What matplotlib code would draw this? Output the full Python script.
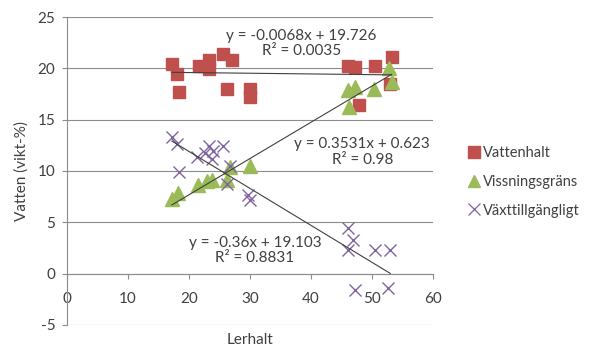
import matplotlib
matplotlib.use("Agg")
import matplotlib.pyplot as plt
from matplotlib.lines import Line2D
import numpy as np

plt.rcParams['font.family'] = ['Lato', 'DejaVu Sans']
plt.rcParams['axes.unicode_minus'] = False

# Data
vatten_x = [17.2, 18.0, 18.4, 21.6, 23.3, 23.3, 25.5, 27.0, 26.3, 30.0, 30.0,
            46.1, 47.2, 50.5, 53.2, 52.9, 47.8]
vatten_y = [20.4, 19.4, 17.7, 20.2, 20.8, 19.9, 21.4, 20.8, 18.0, 18.0, 17.2,
            20.2, 20.1, 20.2, 21.1, 18.5, 16.4]

viss_x = [17.2, 18.2, 21.4, 22.9, 23.7, 26.2, 26.7, 30.0,
          46.1, 47.2, 46.3, 50.4, 52.8, 53.2]
viss_y = [7.3, 7.9, 8.6, 9.0, 9.1, 9.1, 10.4, 10.5,
          17.9, 18.2, 16.2, 18.0, 20.0, 18.7]

vaxt_x = [17.2, 18.0, 18.3, 21.3, 22.7, 23.2, 23.9, 25.6, 23.7, 26.7, 26.3, 29.7, 30.0,
          46.1, 46.9, 46.1, 50.5, 53.0, 47.2, 52.7]
vaxt_y = [13.3, 12.6, 9.9, 11.4, 11.8, 12.4, 11.9, 12.4, 11.2, 10.5, 8.7, 7.7, 7.2,
          4.4, 3.3, 2.3, 2.3, 2.3, -1.6, -1.4]

series_names = ['Vattenhalt', 'Vissningsgräns', 'Växttillgängligt']
trend_coef = [(-0.0068, 19.726), (0.3531, 0.623), (-0.36, 19.103)]
trend_r2 = ['0.0035', '0.98', '0.8831']
trend_eq = ['y = -0.0068x + 19.726', 'y = 0.3531x + 0.623', 'y = -0.36x + 19.103']

x_ticks = [0, 10, 20, 30, 40, 50, 60]
y_ticks = [-5, 0, 5, 10, 15, 20, 25]

colors = ['#C0504D', '#9BBB59', '#8064A2']

fig = plt.figure(figsize=(5.89, 3.46), dpi=100)
ax = fig.add_axes([67/589, 1-325/346, (433-67)/589, (325-17)/346])

ax.set_xlim(0, 60)
ax.set_ylim(-5, 25)
ax.set_xticks(x_ticks)
ax.set_yticks(y_ticks)
ax.yaxis.grid(True, color='#8c8c8c', linewidth=0.8)
ax.set_axisbelow(True)

for s in ['top', 'right']:
    ax.spines[s].set_visible(False)
ax.spines['bottom'].set_position(('data', 0))
ax.spines['bottom'].set_color('#8c8c8c')
ax.spines['left'].set_color('#8c8c8c')
ax.tick_params(axis='both', direction='out', length=3.5, color='#8c8c8c',
               labelsize=11, labelcolor='#404040')
ax.tick_params(axis='x', pad=10)
ax.tick_params(axis='y', pad=5)

ax.plot(vatten_x, vatten_y, 's', color=colors[0], markersize=9.2, mec=colors[0], zorder=3)
ax.plot(viss_x, viss_y, '^', color=colors[1], markersize=10, mec=colors[1], zorder=3)
ax.plot(vaxt_x, vaxt_y, 'x', color=colors[2], markersize=9, mew=1.0, zorder=3)

for xs, (k, m) in zip([vatten_x, viss_x, vaxt_x], trend_coef):
    xx = np.array([min(xs), max(xs)])
    ax.plot(xx, k*xx + m, color='#404040', linewidth=0.8, zorder=4)

label_pos = [(38.4, 22.4), (48.4, 11.85), (30.8, 2.3)]
for (tx, ty), eq, r2 in zip(label_pos, trend_eq, trend_r2):
    ax.text(tx, ty, eq + '\nR² = ' + r2, ha='center', va='center', fontsize=11,
            color='#404040', linespacing=1.1, zorder=5)

ax.set_xlabel('Lerhalt', fontsize=11, color='#404040')
ax.xaxis.set_label_coords(0.5, -0.025)
ax.set_ylabel('Vatten (vikt-%)', fontsize=11, color='#404040', labelpad=6)

handles = [Line2D([], [], marker='s', ls='', color=colors[0], markersize=8),
           Line2D([], [], marker='^', ls='', color=colors[1], markersize=8),
           Line2D([], [], marker='x', ls='', color=colors[2], markersize=8, mew=0.9)]
fig.legend(handles, series_names, loc='center left', bbox_to_anchor=(468/589, 1-182/346),
           frameon=False, fontsize=10.5, handletextpad=0.2, labelspacing=1.0,
           handlelength=0.8, borderpad=0, borderaxespad=0, labelcolor='#404040')

fig.savefig('out.png', dpi=100)
